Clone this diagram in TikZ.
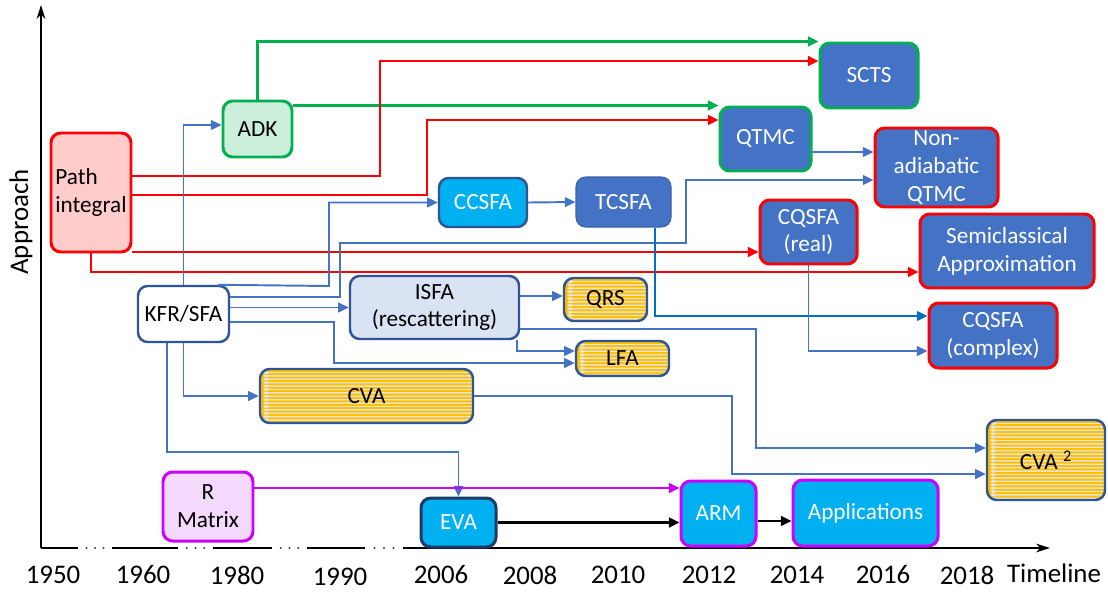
\documentclass[tikz,border=0pt]{standalone}
\usepackage{fontspec}
\setmainfont{Carlito}
\usetikzlibrary{arrows.meta}
\definecolor{cblue}{HTML}{4472C4}
\definecolor{cdark}{HTML}{2F5597}
\definecolor{cnavy}{HTML}{1F3864}
\definecolor{ccyan}{HTML}{00B0F0}
\definecolor{cred}{HTML}{FF0000}
\definecolor{cgreen}{HTML}{00B050}
\definecolor{cmag}{HTML}{CC00FF}
\definecolor{cpink}{HTML}{FFCCCC}
\definecolor{cmint}{HTML}{CCEFDC}
\definecolor{clav}{HTML}{F5D9FC}
\definecolor{cpale}{HTML}{DAE3F3}
\definecolor{cdeep}{HTML}{0070C0}
\definecolor{stripey}{HTML}{FFC000}
\definecolor{stripebg}{HTML}{E6E6E6}
\newcommand\nodefont{\fontsize{13.2}{15.8}\selectfont}
\newcommand\yearfont{\fontsize{15.3}{18}\selectfont}
\tikzset{
  sz/.style 2 args={minimum width=#1*0.02cm, minimum height=#2*0.02cm},
  box/.style={rectangle, rounded corners=5.5pt, inner sep=0pt, align=center, font=\nodefont, line width=1.4pt, text=black},
  darkfill/.style={box, fill=cblue, text=white},
  stripes/.style={box, draw=cdark, fill=stripebg, path picture={
      \foreach \k in {0,...,30}{
        \fill[stripey] ([yshift=-(\k*3.4+0.8)*0.02cm]path picture bounding box.north west) rectangle ++(260,2.0);}
    }},
  tip/.style={-{Triangle[length=6pt,width=5.5pt]}},
  bl/.style={tip, draw=cblue, line width=1.1pt},
  rd/.style={tip, draw=cred, line width=1.3pt},
  gr/.style={tip, draw=cgreen, line width=1.3pt},
  mg/.style={tip, draw=cmag, line width=1.3pt},
  bk/.style={tip, draw=black, line width=1.3pt},
  dp/.style={tip, draw=cdeep, line width=1.1pt},
  axis/.style={line width=0.8pt, -{Stealth[length=8pt,width=5pt]}},
  year/.style={font=\yearfont, inner sep=0pt}
}
\begin{document}
\begin{tikzpicture}[x=0.02cm, y=-0.02cm]
\useasboundingbox (0,0) rectangle (1108,592);

% axes
\coordinate (orig) at (41,548);
\coordinate (ytop) at (41,5);
\coordinate (xend) at (1050,548);
\draw[axis] (orig) -- (ytop);
\draw[axis] (orig) -- (xend);
\foreach \a/\b in {78/112,178/213,272/307,365/403}{
  \draw[white, line width=2.5pt] (\a,548) -- (\b,548);
  \foreach \t in {0.25,0.5,0.75} \fill[black!75] ({\a+(\b-\a)*\t},548) circle (0.6pt);
}
\node[rotate=90, font=\yearfont] (approach) at (21,222) {Approach};
\node[year] (y1950) at (53,575) {1950};
\node[year] (y1960) at (143,575) {1960};
\node[year] (y1980) at (237,575) {1980};
\node[year] (y1990) at (340,577) {1990};
\node[year] (y2006) at (441,575) {2006};
\node[year] (y2008) at (530,575) {2008};
\node[year] (y2010) at (618,575) {2010};
\node[year] (y2012) at (709,575) {2012};
\node[year] (y2014) at (797,575) {2014};
\node[year] (y2016) at (883,575) {2016};
\node[year] (y2018) at (967,575) {2018};
\node[year] (tl) at (1054,573) {Timeline};

% nodes
\node[box, draw=cred, line width=1.7pt, fill=cpink, align=left, sz={80}{119}] (pi) at (91,192.5) {Path\\integral};
\node[box, draw=cgreen, line width=1.7pt, fill=cmint, sz={69}{56}] (adk) at (257.5,129) {ADK};
\node[box, draw=cdark, fill=white, sz={91}{56}] (kfr) at (183.5,314) {KFR/SFA};
\node[box, draw=cdark, fill=cpale, sz={169}{63}] (isfa) at (434.5,307.5) {ISFA\\(rescattering)};
\node[box, draw=cdark, fill=ccyan, text=white, sz={88}{49}] (ccsfa) at (483,202.5) {CCSFA};
\node[darkfill, draw=cblue!85!black, line width=0.6pt, sz={95}{50}] (tcsfa) at (623.5,202) {TCSFA};
\node[darkfill, draw=cgreen, line width=1.7pt, sz={91}{64}] (qtmc) at (765.5,139) {QTMC};
\node[darkfill, draw=cgreen, line width=1.7pt, sz={98}{65}] (scts) at (869,75.5) {SCTS};
\node[darkfill, draw=cred, line width=1.7pt, sz={123}{79}] (nonad) at (936.5,167.5) {Non-\\adiabatic\\QTMC};
\node[darkfill, draw=cred, line width=1.7pt, sz={97}{64}] (cqreal) at (808.5,232) {CQSFA\\(real)};
\node[darkfill, draw=cred, line width=1.7pt, sz={174}{74}] (semi) at (1007,251) {Semiclassical\\Approximation};
\node[darkfill, draw=cred, line width=1.7pt, sz={128}{65}] (cqcomplex) at (993,335.5) {CQSFA\\(complex)};
\node[stripes, sz={83}{43}] (qrs) at (605.5,299.5) {QRS};
\node[stripes, sz={93}{35}] (lfa) at (622.5,358.5) {LFA};
\node[stripes, sz={213}{54}] (cva) at (366.5,396) {CVA};
\node[stripes, sz={118}{80}] (cvatwo) at (1046,460) {CVA \textsuperscript{2}};
\node[box, draw=cmag, line width=1.7pt, fill=clav, sz={90}{69}] (rmat) at (208,506.5) {R\\Matrix};
\node[box, draw=cnavy, line width=1.7pt, fill=ccyan, text=white, sz={75}{49}] (eva) at (458.5,522.5) {EVA};
\node[box, draw=cmag, line width=1.7pt, fill=ccyan, text=white, sz={75}{65}] (arm) at (718.5,513.5) {ARM};
\node[box, draw=cmag, line width=1.7pt, fill=ccyan, text=white, sz={145}{66}] (apps) at (865.5,513) {Applications};

% green connectors
\draw[gr] (adk.north) |- (scts.north west);
\draw[gr] (adk.east |- qtmc.north west) -- (qtmc.north west);

% red connectors
\draw[rd] (pi.east |- 0,176) -- (380,176) |- (scts.west |- 0,61);
\draw[rd] (pi.east |- 0,195) -- (427,195) |- (qtmc.west |- 0,120);
\draw[rd] (pi.east |- 0,252) -- (cqreal.west |- 0,252);
\draw[rd] (pi.south) |- (semi.west |- 0,272);

% blue connectors from KFR/SFA
\draw[bl] (kfr.north) |- (adk.west |- 0,125);
\draw[bl] (kfr.south) |- (cva.west);
\draw[bl] (kfr.south -| 167,0) -- (167,452) -| (eva.north);
\draw[bl] (kfr.north -| 218,0) -- (329,286) |- (ccsfa.west);
\draw[bl] (kfr.east |- 0,297) -| (340,243) -| (686,180) -- (nonad.west |- 0,180);
\draw[bl] (kfr.east |- isfa.west) -- (isfa.west);
\draw[bl] (kfr.east |- 0,322) -| (334,363) -- (lfa.west |- 0,363);

% blue connectors from ISFA and others
\draw[bl] (isfa.east |- 0,296) -- (qrs.west |- 0,296);
\draw[bl] (isfa.south -| 517,0) |- (lfa.west |- 0,351);
\draw[bl] (isfa.east |- 0,329) -| (756,448) -- (cvatwo.west |- 0,448);
\draw[bl] (cva.east) -| (732,474) -- (cvatwo.west |- 0,474);
\draw[bl] (ccsfa.east) -- (tcsfa.west);
\draw[dp] (tcsfa.south -| 655,0) |- (cqcomplex.west |- 0,316);
\draw[bl] (qtmc.east |- 0,152) -- (nonad.west |- 0,152);
\draw[bl] (cqreal.south) |- (cqcomplex.west |- 0,351);

% bottom row
\draw[mg] (rmat.east |- 0,488) -- (arm.west |- 0,488);
\draw[bk] (eva.east) -- (arm.west |- eva.east);
\draw[bk] (arm.east |- 0,521) -- (apps.west |- 0,521);
\end{tikzpicture}
\end{document}
